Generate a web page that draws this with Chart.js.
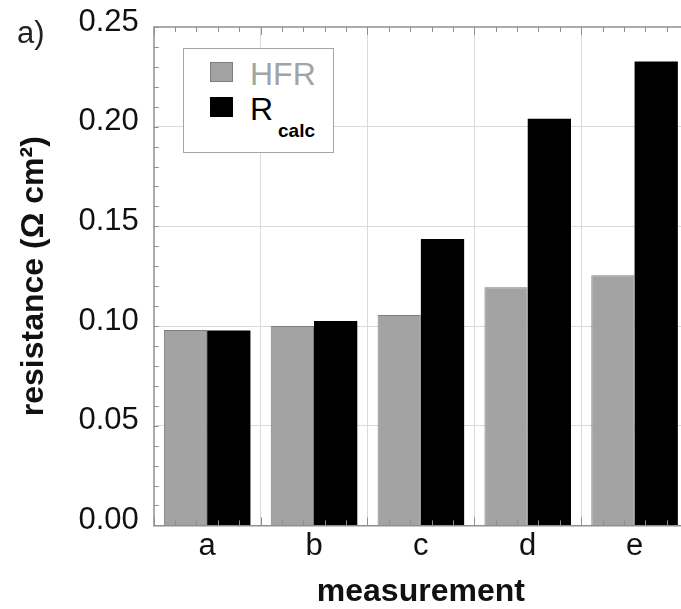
<!DOCTYPE html>
<html>
<head>
<meta charset="utf-8">
<title>resistance per measurement</title>
<script src="https://cdn.jsdelivr.net/npm/chart.js@4.4.0/dist/chart.umd.min.js"></script>
<style>
    html, body {
        margin: 0;
        padding: 0;
        background: #fff;
        overflow: hidden;
    }
    #wrap {
        position: relative;
        width: 681px;
        height: 609px;
        overflow: hidden;
        font-family: "Liberation Sans", Arial, sans-serif;
    }
    #chart {
        position: absolute;
        left: 0;
        top: 0;
    }
    #panel {
        position: absolute;
        left: 17px;
        top: 17px;
        font-size: 31px;
        line-height: 31px;
        color: #222;
    }
    #legend {
        position: absolute;
        left: 183px;
        top: 48px;
        width: 151px;
        height: 105px;
        box-sizing: border-box;
        border: 1px solid #a6a6a6;
        background: #fff;
    }
    .swatch {
        position: absolute;
        left: 26px;
        width: 23px;
        height: 20px;
        box-sizing: border-box;
    }
    .name {
        position: absolute;
        left: 66px;
        font-size: 32px;
        line-height: 32px;
        white-space: nowrap;
    }
    .name sub {
        position: absolute;
        left: 28px;
        top: 28px;
        font-size: 19px;
        line-height: 19px;
        font-weight: bold;
        vertical-align: baseline;
    }
</style>
</head>
<body>
<div id="wrap">
    <canvas id="chart" width="700" height="611"></canvas>
    <div id="panel">a)</div>
    <div id="legend"></div>
</div>
<script>
    const FONT = '"Liberation Sans", Arial, sans-serif';

    // measurements on the x axis
    const categories = ['a', 'b', 'c', 'd', 'e'];

    // resistance in Ohm cm^2
    const hfrValues = [0.098, 0.100, 0.1055, 0.1195, 0.1255];
    const rcalcValues = [0.0978, 0.1025, 0.1437, 0.204, 0.2327];

    // y axis ticks
    const yTicks = [0.00, 0.05, 0.10, 0.15, 0.20, 0.25];

    // legend names, "_" marks the subscript
    const seriesNames = ['HFR', 'R_calc'];
    const seriesColors = ['#a3a3a3', '#000000'];
    const seriesBorders = ['#7c7c7c', '#000000'];
    const nameColors = ['#a3a3a3', '#000000'];

    /**
     * Draw the top frame and the small inner ticks
     */
    const frameTicks = {
        id: 'frameTicks',
        afterDatasetsDraw(chart) {
            const { ctx, chartArea: area, scales: { x, y } } = chart;
            ctx.save();

            // top border
            ctx.strokeStyle = '#ababab';
            ctx.lineWidth = 2;
            ctx.beginPath();
            ctx.moveTo(area.left, area.top);
            ctx.lineTo(area.right, area.top);
            ctx.stroke();

            ctx.strokeStyle = '#8f8f8f';
            ctx.lineWidth = 1;
            ctx.beginPath();

            // minor ticks on the left axis, every 0.01
            for (let v = y.min; v <= y.max + 1e-9; v += 0.01) {
                const py = Math.round(y.getPixelForValue(v)) + 0.5;
                ctx.moveTo(area.left, py);
                ctx.lineTo(area.left + 5, py);
            }

            // five steps per category on bottom and top
            const step = x.getPixelForValue(1) - x.getPixelForValue(0);
            categories.forEach((c, i) => {
                const start = x.getPixelForValue(i) - step / 2;
                for (let k = 0; k < 5; k++) {
                    const px = Math.round(start + k * step / 5) + 0.5;
                    const len = k === 0 ? 8 : 5;
                    ctx.moveTo(px, area.bottom);
                    ctx.lineTo(px, area.bottom - len);
                    ctx.moveTo(px, area.top);
                    ctx.lineTo(px, area.top + len);
                }
            });
            ctx.stroke();
            ctx.restore();
        }
    };

    const ctx = document.getElementById('chart').getContext('2d');

    const chart = new Chart(ctx, {
        type: 'bar',
        data: {
            labels: categories,
            datasets: [
                {
                    label: seriesNames[0],
                    data: hfrValues,
                    backgroundColor: seriesColors[0],
                    borderColor: seriesBorders[0],
                    borderWidth: 1,
                    categoryPercentage: 0.81,
                    barPercentage: 1.0
                },
                {
                    label: seriesNames[1],
                    data: rcalcValues,
                    backgroundColor: seriesColors[1],
                    borderColor: seriesBorders[1],
                    borderWidth: 0,
                    categoryPercentage: 0.81,
                    barPercentage: 1.0
                }
            ]
        },
        options: {
            responsive: false,
            animation: false,
            devicePixelRatio: 1,
            layout: {
                padding: { top: 27, right: 12, bottom: 0, left: 0 }
            },
            plugins: {
                legend: { display: false },
                tooltip: { enabled: false }
            },
            scales: {
                x: {
                    grid: {
                        offset: true,
                        color: '#dadada',
                        lineWidth: 1,
                        drawTicks: false
                    },
                    border: { color: '#8f8f8f', width: 1.5 },
                    ticks: {
                        padding: 2,
                        color: '#111',
                        font: { family: FONT, size: 31 }
                    },
                    title: {
                        display: true,
                        text: 'measurement',
                        color: '#111',
                        font: { family: FONT, size: 32, weight: 'bold' },
                        padding: { top: 6, bottom: 0 }
                    }
                },
                y: {
                    min: yTicks[0],
                    max: yTicks[yTicks.length - 1],
                    grid: {
                        color: '#dadada',
                        lineWidth: 1,
                        drawTicks: false
                    },
                    border: { color: '#ababab', width: 2 },
                    ticks: {
                        stepSize: yTicks[1] - yTicks[0],
                        padding: 15,
                        labelOffset: -5,
                        color: '#111',
                        font: { family: FONT, size: 31, lineHeight: 0.7 },
                        callback: value => value.toFixed(2)
                    },
                    title: {
                        display: true,
                        text: 'resistance (Ω cm²)',
                        color: '#111',
                        font: { family: FONT, size: 32, weight: 'bold' },
                        padding: { top: 15, bottom: 10 }
                    }
                }
            }
        },
        plugins: [frameTicks]
    });

    /**
     * Build the legend box from the chart datasets
     */
    function buildLegend() {
        const box = document.getElementById('legend');
        box.innerHTML = '';
        chart.data.datasets.forEach((ds, i) => {
            const swatch = document.createElement('div');
            swatch.className = 'swatch';
            swatch.style.top = (13 + i * 35) + 'px';
            swatch.style.background = ds.backgroundColor;
            swatch.style.border = '1px solid ' + ds.borderColor;
            box.appendChild(swatch);

            const name = document.createElement('div');
            name.className = 'name';
            name.style.top = (9 + i * 35) + 'px';
            name.style.color = nameColors[i];
            const parts = ds.label.split('_');
            name.textContent = parts[0];
            if (parts[1]) {
                const sub = document.createElement('sub');
                sub.textContent = parts[1];
                name.appendChild(sub);
            }
            box.appendChild(name);
        });
    }

    buildLegend();
</script>
</body>
</html>
